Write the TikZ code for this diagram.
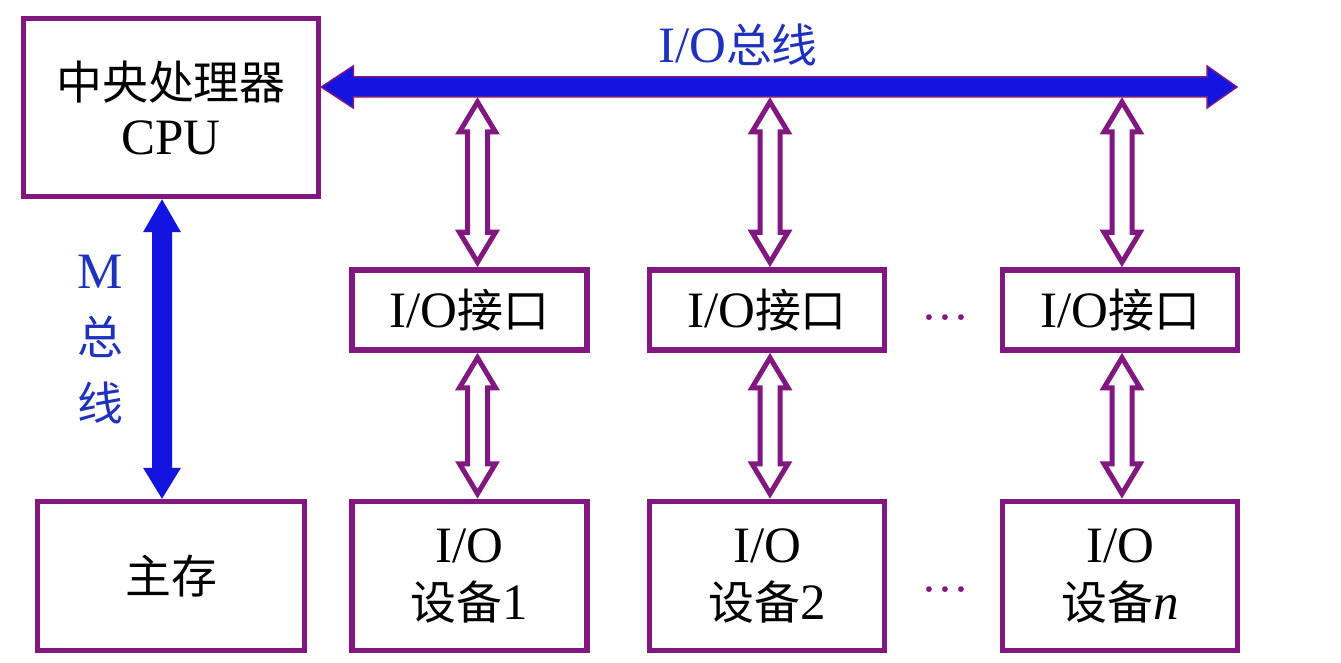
\documentclass[tikz,border=0pt]{standalone}
\usepackage{fontspec}
\setmainfont{Liberation Serif}
\newfontfamily\cjk{Noto Sans CJK SC}[Scale=0.9]
\usetikzlibrary{calc}
\newcommand\zh[1]{{\cjk #1}}
\definecolor{pur}{RGB}{128,24,128}
\definecolor{busblue}{RGB}{20,20,225}
\definecolor{txtblue}{RGB}{30,50,190}
% hollow double arrow between two points (top, bottom)
\newcommand\hollowarr[2]{%
  \draw[hollow] let \p1=(#1), \p2=(#2) in
    (\x1,\y1-5pt) -- (\x1-18pt,\y1-35pt) -- (\x1-10pt,\y1-35pt) --
    (\x1-10pt,\y2+35pt) -- (\x1-18pt,\y2+35pt) -- (\x1,\y2+5pt) --
    (\x1+18pt,\y2+35pt) -- (\x1+10pt,\y2+35pt) -- (\x1+10pt,\y1-35pt) --
    (\x1+18pt,\y1-35pt) -- cycle;}
\begin{document}
\begin{tikzpicture}[x=1pt,y=-1pt,
  box/.style={draw=pur,line width=5.5pt,fill=white,inner sep=0pt,
    minimum width=235pt,align=center,font=\fontsize{51}{57}\selectfont},
  hollow/.style={draw=pur,fill=white,line width=5pt,line join=miter},
  busfill/.style={fill=busblue,draw=pur,line width=1.5pt,line join=miter},
  mfill/.style={fill=busblue,draw=none},
  lbl/.style={text=txtblue,align=center,inner sep=0pt},
  dots/.style={text=pur,inner sep=0pt,font=\fontsize{48}{48}\selectfont}]
\useasboundingbox (0,0) rectangle (1341,663);
\fill[white] (0,0) rectangle (1341,663);

% boxes
\node[box,minimum width=295pt,minimum height=178pt] (cpu) at (171,107.5) {\zh{中央处理器}\\[-2pt]CPU};
\node[box,minimum width=267pt,minimum height=149pt] (mem) at (171,576) {\zh{主存}};
\node[box,minimum height=80pt] (if1) at (469.5,310) {I/O\zh{接口}};
\node[box,minimum height=80pt] (if2) at (767,310) {I/O\zh{接口}};
\node[box,minimum height=80pt] (if3) at (1120,310) {I/O\zh{接口}};
\node[box,minimum height=149pt] (dev1) at (469.5,576) {I/O\\\zh{设备}1};
\node[box,minimum height=149pt] (dev2) at (767,576) {I/O\\\zh{设备}2};
\node[box,minimum height=149pt] (dev3) at (1120,576) {I/O\\\zh{设备}\textit{n}};

% dots
\node[dots] (d1) at (945,324) {···};
\node[dots] (d2) at (945,596) {···};

% I/O bus
\coordinate (busy) at (0,87);
\coordinate (busL) at (cpu.east |- busy);
\coordinate (busR) at (1237,87);
\fill[busfill] let \p1=(busL), \p2=(busR) in
  (\x1,\y1) -- (\x1+32pt,\y1+21pt) -- (\x1+32pt,\y1+10pt) -- (\x2-30pt,\y1+10pt) --
  (\x2-30pt,\y1+21pt) -- (\x2,\y1) -- (\x2-30pt,\y1-21pt) -- (\x2-30pt,\y1-10pt) --
  (\x1+32pt,\y1-10pt) -- (\x1+32pt,\y1-21pt) -- cycle;
\node[lbl,font=\fontsize{51}{51}\selectfont] (iobus) at (738,45) {I/O\zh{总线}};

% M bus
\coordinate (mx) at (162,0);
\fill[mfill] let \p1=(mx |- cpu.south), \p2=(mx |- mem.north) in
  (\x1,\y1) -- (\x1-19pt,\y1-33pt) -- (\x1-10pt,\y1-33pt) -- (\x1-10pt,\y2+31pt) --
  (\x1-19pt,\y2+31pt) -- (\x2,\y2) -- (\x1+19pt,\y2+31pt) -- (\x1+10pt,\y2+31pt) --
  (\x1+10pt,\y1-33pt) -- (\x1+19pt,\y1-33pt) -- cycle;
\node[lbl,font=\fontsize{51}{66}\selectfont] (mlab) at (100,340) {M\\\zh{总}\\\zh{线}};

% hollow arrows
\coordinate (busb) at (0,97);
\coordinate (c1) at (477.5,0);
\coordinate (c2) at (770,0);
\coordinate (c3) at (1122,0);
\hollowarr{c1 |- busb}{c1 |- if1.north}
\hollowarr{c2 |- busb}{c2 |- if2.north}
\hollowarr{c3 |- busb}{c3 |- if3.north}
\hollowarr{c1 |- if1.south}{c1 |- dev1.north}
\hollowarr{c2 |- if2.south}{c2 |- dev2.north}
\hollowarr{c3 |- if3.south}{c3 |- dev3.north}
\end{tikzpicture}
\end{document}
